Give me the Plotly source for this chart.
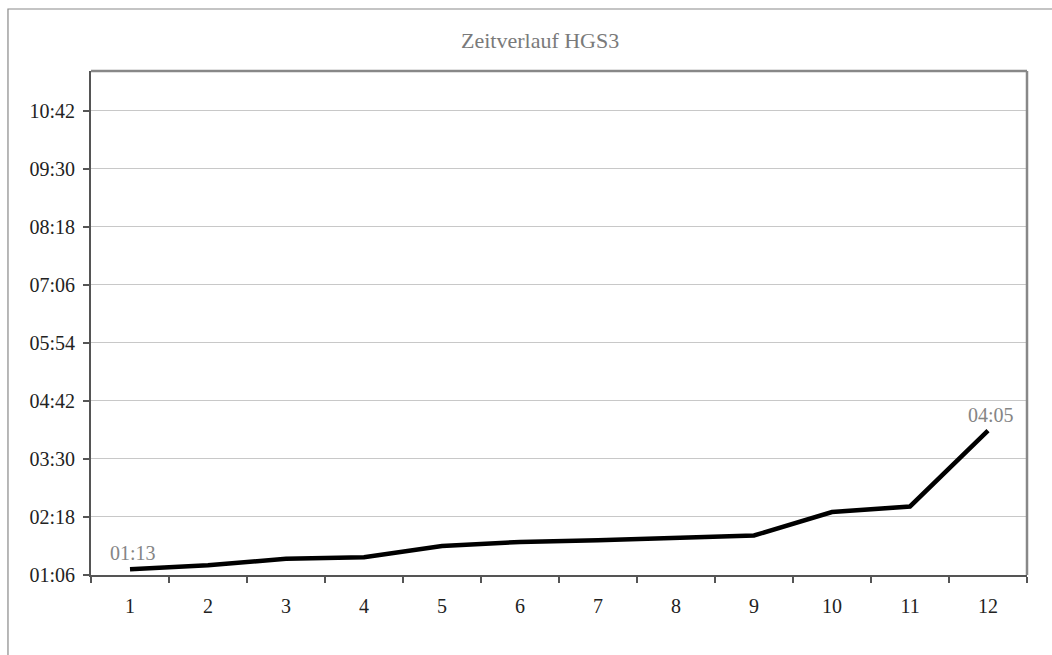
import plotly.graph_objects as go

# Durchlauf-Nummern und gemessene Zeiten (mm:ss)
runs = [str(i) for i in range(1, 13)]
times = ["01:13", "01:18", "01:26", "01:28", "01:42", "01:47",
         "01:49", "01:52", "01:55", "02:24", "02:31", "04:05"]
y_ticks = ["01:06", "02:18", "03:30", "04:42", "05:54",
           "07:06", "08:18", "09:30", "10:42"]
y_max_label = "11:31"
title_text = "Zeitverlauf HGS3"
labelled = [0, 11]


def to_min(s):
    m, sec = s.split(":")
    return int(m) + int(sec) / 60.0


values = [to_min(t) for t in times]
tick_vals = [to_min(t) for t in y_ticks]

serif = "'Times New Roman', 'Liberation Serif', 'DejaVu Serif', serif"

fig = go.Figure()
fig.add_trace(go.Scatter(
    x=runs, y=values, mode="lines",
    line=dict(color="#000000", width=4.5),
    hoverinfo="skip",
))

# Datenbeschriftungen für ersten und letzten Durchlauf (x = Kategorie-Index)
for i in labelled:
    fig.add_annotation(
        x=i, y=values[i], text=times[i], showarrow=False,
        xanchor="center", yanchor="middle", xshift=3, yshift=16,
        font=dict(family=serif, size=20, color="#858585"),
    )

# Diagrammtitel
fig.add_annotation(
    text=title_text, showarrow=False, xref="paper", yref="paper",
    x=(540 - 91) / 936, y=1 + (71 - 41) / 504,
    xanchor="center", yanchor="middle",
    font=dict(family=serif, size=22, color="#7a7a7a"),
)

fig.update_layout(
    width=1052, height=655,
    margin=dict(l=91, r=25, t=71, b=80),
    paper_bgcolor="white", plot_bgcolor="white",
    showlegend=False,
    font=dict(family=serif, size=20, color="#222222"),
)

fig.update_xaxes(
    type="category", range=[-0.5, len(runs) - 0.5],
    tickson="boundaries", ticks="outside", ticklen=6, tickwidth=1.5,
    tickcolor="#555555", showline=True, linecolor="#555555", linewidth=2,
    showgrid=False, ticklabelstandoff=12,
    tickfont=dict(family=serif, size=20, color="#222222"),
)
fig.update_yaxes(
    range=[tick_vals[0], to_min(y_max_label)],
    tickvals=tick_vals, ticktext=y_ticks,
    ticks="outside", ticklen=6, tickwidth=1.5, tickcolor="#555555",
    showline=True, linecolor="#555555", linewidth=2,
    showgrid=True, gridcolor="#c8c8c8", gridwidth=1,
    zeroline=False, ticklabelstandoff=4,
    tickfont=dict(family=serif, size=20, color="#222222"),
)

# Rahmen oben/rechts der Zeichenfläche
fig.add_shape(type="line", xref="paper", yref="paper", x0=0, x1=1, y0=1, y1=1,
              line=dict(color="#888888", width=2.5))
fig.add_shape(type="line", xref="paper", yref="paper", x0=1, x1=1, y0=0, y1=1,
              line=dict(color="#888888", width=2.5))
# äußerer Diagrammrahmen
fig.add_shape(type="rect", xref="paper", yref="paper",
              x0=-0.0887, x1=1.2, y0=-0.3, y1=1.123,
              line=dict(color="#8a8a8a", width=1.2), layer="below")

fig.write_html("out.html")
